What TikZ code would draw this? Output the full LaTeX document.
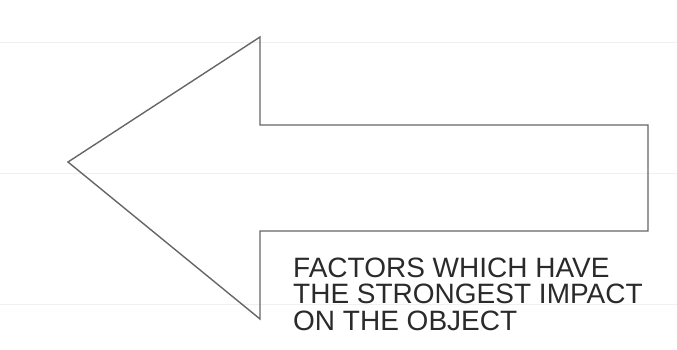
\documentclass[tikz,border=0pt]{standalone}
\usepackage{fontspec}
\setmainfont{Liberation Sans}
\definecolor{rulegray}{HTML}{F0F0F0}
\definecolor{edgegray}{HTML}{666666}
\definecolor{textgray}{HTML}{2A2A2A}

\begin{document}
\begin{tikzpicture}[x=1pt, y=-1pt]
    \useasboundingbox (0,0) rectangle (677,349);
    % Below are the faint rules behind the arrow.
        \draw[rulegray, line width=1pt] (0,42) -- (677,42);
        \draw[rulegray, line width=1pt] (0,173) -- (677,173);
        \draw[rulegray, line width=1pt] (0,304) -- (677,304);
    % This draws the arrow outline.
        \draw[edgegray, line width=1.4pt, line join=miter]
            (68,162) -- (260,37) -- (260,125) -- (648,125)
            -- (648,231) -- (260,231) -- (260,319) -- cycle;
    % Below node is the label (base is the last line).
        \node[anchor=base west, inner sep=0pt, align=left, text=textgray,
              font=\fontsize{28}{26.5}\selectfont] (factors) at (293,330)
            {FACTORS WHICH HAVE\\THE STRONGEST IMPACT\\ON THE OBJECT};
\end{tikzpicture}
\end{document}
